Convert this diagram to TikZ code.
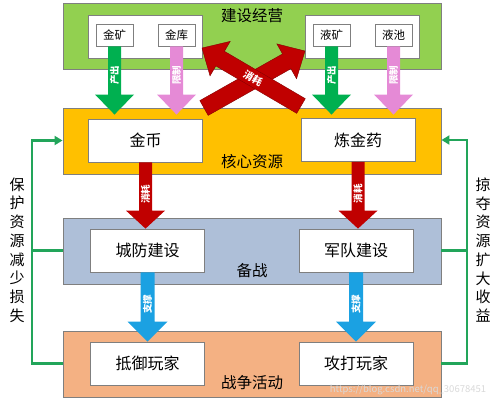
\documentclass[tikz,border=0pt]{standalone}
\usepackage{fontspec}
\setmainfont{Noto Sans CJK SC}
\usetikzlibrary{calc,arrows.meta}
\definecolor{cgreen}{HTML}{92D050}
\definecolor{corange}{HTML}{FFC000}
\definecolor{cblue}{HTML}{AEBFD8}
\definecolor{cpeach}{HTML}{F4B183}
\definecolor{agreen}{HTML}{00B050}
\definecolor{apink}{HTML}{E58AD6}
\definecolor{ared}{HTML}{C00000}
\definecolor{ablue}{HTML}{1BA1E2}
\definecolor{sgreen}{HTML}{22A55A}
\definecolor{bord}{HTML}{7F7F7F}
\tikzset{
  fat/.style n args={3}{to path={let \p1=($(\tikztotarget)!#3!(\tikztostart)$) in
    ($(\tikztostart)!#1!90:(\tikztotarget)$) -- ($(\p1)!#1!90:(\tikztotarget)$) --
    ($(\p1)!#2!90:(\tikztotarget)$) -- (\tikztotarget) --
    ($(\p1)!#2!-90:(\tikztotarget)$) -- ($(\p1)!#1!-90:(\tikztotarget)$) --
    ($(\tikztostart)!#1!-90:(\tikztotarget)$) -- cycle}},
  sec/.style={draw=bord, line width=0.9pt, minimum width=378pt, minimum height=66pt, inner sep=0pt},
  grp/.style={draw=bord, line width=0.8pt, fill=white, minimum width=114pt, minimum height=43pt, inner sep=0pt},
  smallbox/.style={draw=bord, line width=0.8pt, fill=white, minimum width=37pt, minimum height=22pt, inner sep=0pt, font=\fontsize{11.5}{13}\selectfont},
  bigbox/.style={draw=bord, line width=0.8pt, fill=white, minimum width=114pt, minimum height=43pt, inner sep=0pt, font=\fontsize{16}{19}\selectfont},
  title/.style={inner sep=0pt, font=\fontsize{15.5}{18}\selectfont},
  garrow/.style={fill=agreen, fat={6.5pt}{19.5pt}{20pt}},
  parrow/.style={fill=apink, fat={6.5pt}{19.5pt}{20pt}},
  rarrow/.style={fill=ared, fat={6.5pt}{19.5pt}{18pt}},
  barrow/.style={fill=ablue, fat={7pt}{20pt}{20pt}},
  xarrow/.style={fill=ared, draw=ared!70!black, line width=0.4pt, fat={8.5pt}{20pt}{21pt}},
  alabel/.style={text=white, inner sep=0pt, font=\fontsize{9.5}{10}\selectfont\bfseries},
  side/.style={draw=sgreen, line width=2.2pt},
  sidearrow/.style={side, -{Triangle[length=8pt,width=9pt]}},
  vtext/.style={align=center, inner sep=0pt, font=\fontsize{15}{18.75}\selectfont},
}
\begin{document}
\begin{tikzpicture}[x=1pt,y=-1pt]
\useasboundingbox (0,0) rectangle (500,407);
% sections
\node[sec, fill=cgreen] (build) at (252.5,36) {};
\node[sec, fill=corange] (core) at (252,141) {};
\node[sec, fill=cblue] (prep) at (252,251) {};
\node[sec, fill=cpeach] (war) at (252,364) {};
\node[title] (tbuild) at (252,16) {建设经营};
\node[title] (tcore) at (252,162) {核心资源};
\node[title] (tprep) at (252,271) {备战};
\node[title] (twar) at (252,383) {战争活动};
% groups in building
\node[grp] (gl) at (145,36.5) {};
\node[grp] (gr) at (362,36.5) {};
\node[smallbox] (jk) at (114.5,35) {金矿};
\node[smallbox] (jku) at (176.5,35) {金库};
\node[smallbox] (yk) at (331.5,35) {液矿};
\node[smallbox] (yc) at (393.5,35) {液池};
% resource boxes
\node[bigbox] (jb) at (145.5,140.5) {金币};
\node[bigbox] (ljy) at (358,140) {炼金药};
\node[bigbox] (cf) at (147.5,250.5) {城防建设};
\node[bigbox] (jd) at (356,250.5) {军队建设};
\node[bigbox] (dy) at (147.5,363.5) {抵御玩家};
\node[bigbox] (gd) at (356,363.5) {攻打玩家};
% arrows building -> core
\coordinate (jkt) at ($(jk.south |- core.north)+(0,7)$);
\coordinate (jkut) at ($(jku.south |- core.north)+(0,7)$);
\coordinate (ykt) at ($(yk.south |- core.north)+(0,7)$);
\coordinate (yct) at ($(yc.south |- core.north)+(0,7)$);
\fill[garrow] (jk.south) to (jkt);
\fill[parrow] (jku.south) to (jkut);
\fill[garrow] (yk.south) to (ykt);
\fill[parrow] (yc.south) to (yct);
\node[alabel, rotate=90] at ($(jk.south)+(0,29)$) {产出};
\node[alabel, rotate=90] at ($(jku.south)+(0,29)$) {限制};
\node[alabel, rotate=90] at ($(yk.south)+(0,29)$) {产出};
\node[alabel, rotate=90] at ($(yc.south)+(0,29)$) {限制};
% crossing arrows core -> building
\coordinate (xa) at (204,108);
\coordinate (xat) at (305,51);
\coordinate (xb) at (301,106);
\coordinate (xbt) at (202,48);
\fill[xarrow] (xa) to (xat);
\fill[xarrow] (xb) to (xbt);
\node[alabel, rotate=-31, font=\fontsize{10}{11}\selectfont\bfseries] (xlab) at (253,78) {消耗};
% core -> prep
\fill[rarrow] (jb.south) to (jb.south |- cf.north);
\fill[rarrow] (ljy.south) to (ljy.south |- jd.north);
\node[alabel, rotate=90] at ($(jb.south)+(0,32)$) {消耗};
\node[alabel, rotate=90] at ($(ljy.south)+(0,32)$) {消耗};
% prep -> war
\fill[barrow] (cf.south) to (cf.south |- dy.north);
\fill[barrow] (jd.south) to (jd.south |- gd.north);
\node[alabel, rotate=90] at ($(cf.south)+(0,32)$) {支撑};
\node[alabel, rotate=90] at ($(jd.south)+(0,32)$) {支撑};
% side feedback lines
\coordinate (lx) at (32,0);
\coordinate (rx) at (467,0);
\draw[sidearrow] (war.west |- dy.center) -| (lx |- jb.center) -- (core.west |- jb.center);
\draw[side] (prep.west |- cf.center) -- (lx |- cf.center);
\draw[sidearrow] (war.east |- gd.center) -| (rx |- ljy.center) -- (core.east |- ljy.center);
\draw[side] (prep.east |- jd.center) -- (rx |- jd.center);
\node[vtext] (lt) at (17,250) {保\\护\\资\\源\\减\\少\\损\\失};
\node[vtext] (rt) at (483,250) {掠\\夺\\资\\源\\扩\\大\\收\\益};
% watermark
\node[text=black!15, inner sep=0pt, font=\fontsize{9.5}{11}\selectfont] (wm) at (408,390) {https://blog.csdn.net/qq\_30678451};
\end{tikzpicture}
\end{document}
